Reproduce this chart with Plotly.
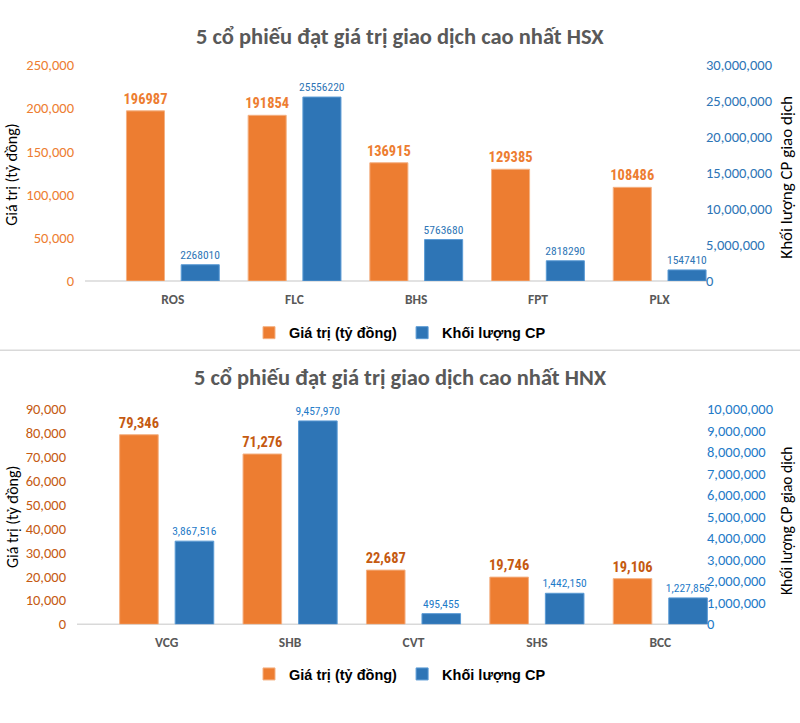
import plotly.graph_objects as go

# ---------------- data ----------------
hsx_codes = ["ROS", "FLC", "BHS", "FPT", "PLX"]
hsx_value = [196987, 191854, 136915, 129385, 108486]
hsx_volume = [2268010, 25556220, 5763680, 2818290, 1547410]

hnx_codes = ["VCG", "SHB", "CVT", "SHS", "BCC"]
hnx_value = [79346, 71276, 22687, 19746, 19106]
hnx_volume = [3867516, 9457970, 495455, 1442150, 1227856]

hsx_left_ticks = [0, 50000, 100000, 150000, 200000, 250000]
hsx_right_ticks = [0, 5000000, 10000000, 15000000, 20000000, 25000000, 30000000]
hnx_left_ticks = [0, 10000, 20000, 30000, 40000, 50000, 60000, 70000, 80000, 90000]
hnx_right_ticks = [0, 1000000, 2000000, 3000000, 4000000, 5000000, 6000000,
                   7000000, 8000000, 9000000, 10000000]

name_value = "Giá trị (tỷ đồng)"
name_volume = "Khối lượng CP"
title_hsx = "5 cổ phiếu đạt giá trị giao dịch cao nhất HSX"
title_hnx = "5 cổ phiếu đạt giá trị giao dịch cao nhất HNX"
ytitle_left = "Giá trị (tỷ đồng)"
ytitle_right = "Khối lượng CP giao dịch"

# ---------------- styling ----------------
W, H = 800, 723
ORANGE = "#ED7D31"
BLUE = "#2E75B6"
ORANGE_DARK = "#C55A11"
BLUE_BRIGHT = "#1F7BC8"
GRAY = "#595959"
CAL = "Carlito, Lato, 'Open Sans', sans-serif"
NARROW = "'Liberation Sans Narrow', 'Arial Narrow', 'Roboto Condensed', sans-serif"
ARIAL = "'Liberation Sans', Arial, sans-serif"


def px(x):
    return x / W


def py(y):
    return 1 - y / H


fig = go.Figure()

# HSX
fig.add_trace(go.Bar(
    x=hsx_codes, y=hsx_value, name=name_value, xaxis="x", yaxis="y",
    offsetgroup="a", legend="legend",
    marker=dict(color=ORANGE, line=dict(color="#F4B183", width=1)),
    text=[str(v) for v in hsx_value], textposition="outside",
    constraintext="none", cliponaxis=False,
    textfont=dict(family=NARROW, size=14.5, color=ORANGE, weight="bold"),
))
fig.add_trace(go.Bar(
    x=hsx_codes, y=hsx_volume, name=name_volume, xaxis="x", yaxis="y2",
    offsetgroup="b", legend="legend",
    marker=dict(color=BLUE, line=dict(color="#5B9BD5", width=1)),
    text=[str(v) for v in hsx_volume], textposition="outside",
    constraintext="none", cliponaxis=False,
    textfont=dict(family=NARROW, size=11.5, color=BLUE),
))

# HNX
fig.add_trace(go.Bar(
    x=hnx_codes, y=hnx_value, name=name_value, xaxis="x2", yaxis="y3",
    offsetgroup="c", legend="legend2",
    marker=dict(color=ORANGE, line=dict(color="#F4B183", width=1)),
    text=[f"{v:,}" for v in hnx_value], textposition="outside",
    constraintext="none", cliponaxis=False,
    textfont=dict(family=NARROW, size=14.5, color=ORANGE_DARK, weight="bold"),
))
fig.add_trace(go.Bar(
    x=hnx_codes, y=hnx_volume, name=name_volume, xaxis="x2", yaxis="y4",
    offsetgroup="d", legend="legend2",
    marker=dict(color=BLUE, line=dict(color="#5B9BD5", width=1)),
    text=[f"{v:,}" for v in hnx_volume], textposition="outside",
    constraintext="none", cliponaxis=False,
    textfont=dict(family=NARROW, size=11.5, color=BLUE_BRIGHT),
))

xcommon = dict(showgrid=False, showline=False, zeroline=False, ticks="",
               tickfont=dict(family=CAL, size=13.5, color=GRAY, weight="bold"),
               ticklabelstandoff=8, fixedrange=True)
ycommon = dict(showgrid=False, showline=False, zeroline=False, ticks="",
               tickformat=",d", fixedrange=True)

fig.update_layout(
    width=W, height=H,
    margin=dict(l=0, r=0, t=0, b=0),
    paper_bgcolor="white", plot_bgcolor="white",
    barmode="group", bargap=0.1, bargroupgap=0.305,
    xaxis=dict(domain=[px(112), px(720.5)], anchor="y", **xcommon),
    yaxis=dict(domain=[py(279), py(57.5)], range=[0, 250000],
               tickvals=hsx_left_ticks, anchor="free", position=px(74),
               tickfont=dict(family=CAL, size=14.5, color=ORANGE), **ycommon),
    yaxis2=dict(overlaying="y", side="right", range=[0, 30000000],
                tickvals=hsx_right_ticks, anchor="free", position=px(705),
                tickfont=dict(family=CAL, size=14.5, color=BLUE), **ycommon),
    xaxis2=dict(domain=[px(105), px(722)], anchor="y3", **xcommon),
    yaxis3=dict(domain=[py(631), py(410.5)], range=[0, 90000],
                tickvals=hnx_left_ticks, anchor="free", position=px(66),
                tickfont=dict(family=CAL, size=14.5, color=ORANGE_DARK), **ycommon),
    yaxis4=dict(overlaying="y3", side="right", range=[0, 10000000],
                tickvals=hnx_right_ticks, anchor="free", position=px(706),
                tickfont=dict(family=CAL, size=14.5, color=BLUE_BRIGHT), **ycommon),
    legend=dict(orientation="h", x=0.5, xanchor="center", y=py(332), yanchor="middle",
                font=dict(family=ARIAL, size=14.5, color="black", weight="bold"),
                bgcolor="rgba(0,0,0,0)", itemclick=False, itemdoubleclick=False),
    legend2=dict(orientation="h", x=0.5, xanchor="center", y=py(682), yanchor="middle",
                 font=dict(family=ARIAL, size=14.5, color="black", weight="bold"),
                 bgcolor="rgba(0,0,0,0)", itemclick=False, itemdoubleclick=False),
    showlegend=True,
)

annotations = [
    dict(text=title_hsx, x=0.5, y=py(28), xref="paper", yref="paper",
         xanchor="center", yanchor="middle", showarrow=False,
         font=dict(family=CAL, size=22.5, color=GRAY, weight="bold")),
    dict(text=title_hnx, x=0.5, y=py(378), xref="paper", yref="paper",
         xanchor="center", yanchor="middle", showarrow=False,
         font=dict(family=CAL, size=22.5, color=GRAY, weight="bold")),
    dict(text=ytitle_left, x=px(12), y=py(170), xref="paper", yref="paper",
         xanchor="center", yanchor="middle", textangle=-90, showarrow=False,
         font=dict(family=CAL, size=16, color="black")),
    dict(text=ytitle_right, x=px(787), y=py(173), xref="paper", yref="paper",
         xanchor="center", yanchor="middle", textangle=-90, showarrow=False,
         font=dict(family=CAL, size=17, color="black")),
    dict(text=ytitle_left, x=px(12), y=py(521), xref="paper", yref="paper",
         xanchor="center", yanchor="middle", textangle=-90, showarrow=False,
         font=dict(family=CAL, size=16, color="black")),
    dict(text=ytitle_right, x=px(787), y=py(525), xref="paper", yref="paper",
         xanchor="center", yanchor="middle", textangle=-90, showarrow=False,
         font=dict(family=CAL, size=15.5, color="black")),
]
fig.update_layout(annotations=annotations)

shapes = [
    # baselines of the two charts
    dict(type="line", xref="paper", yref="paper", x0=px(85), x1=px(707),
         y0=py(279), y1=py(279), line=dict(color="#D9D9D9", width=1.5), layer="below"),
    dict(type="line", xref="paper", yref="paper", x0=px(77), x1=px(707),
         y0=py(631), y1=py(631), line=dict(color="#D9D9D9", width=1.5), layer="below"),
    # separator between the two charts
    dict(type="line", xref="paper", yref="paper", x0=0, x1=1,
         y0=py(350), y1=py(350), line=dict(color="#D9D9D9", width=1.5)),
]
fig.update_layout(shapes=shapes)

fig.write_html("out.html", config={"displayModeBar": False})
